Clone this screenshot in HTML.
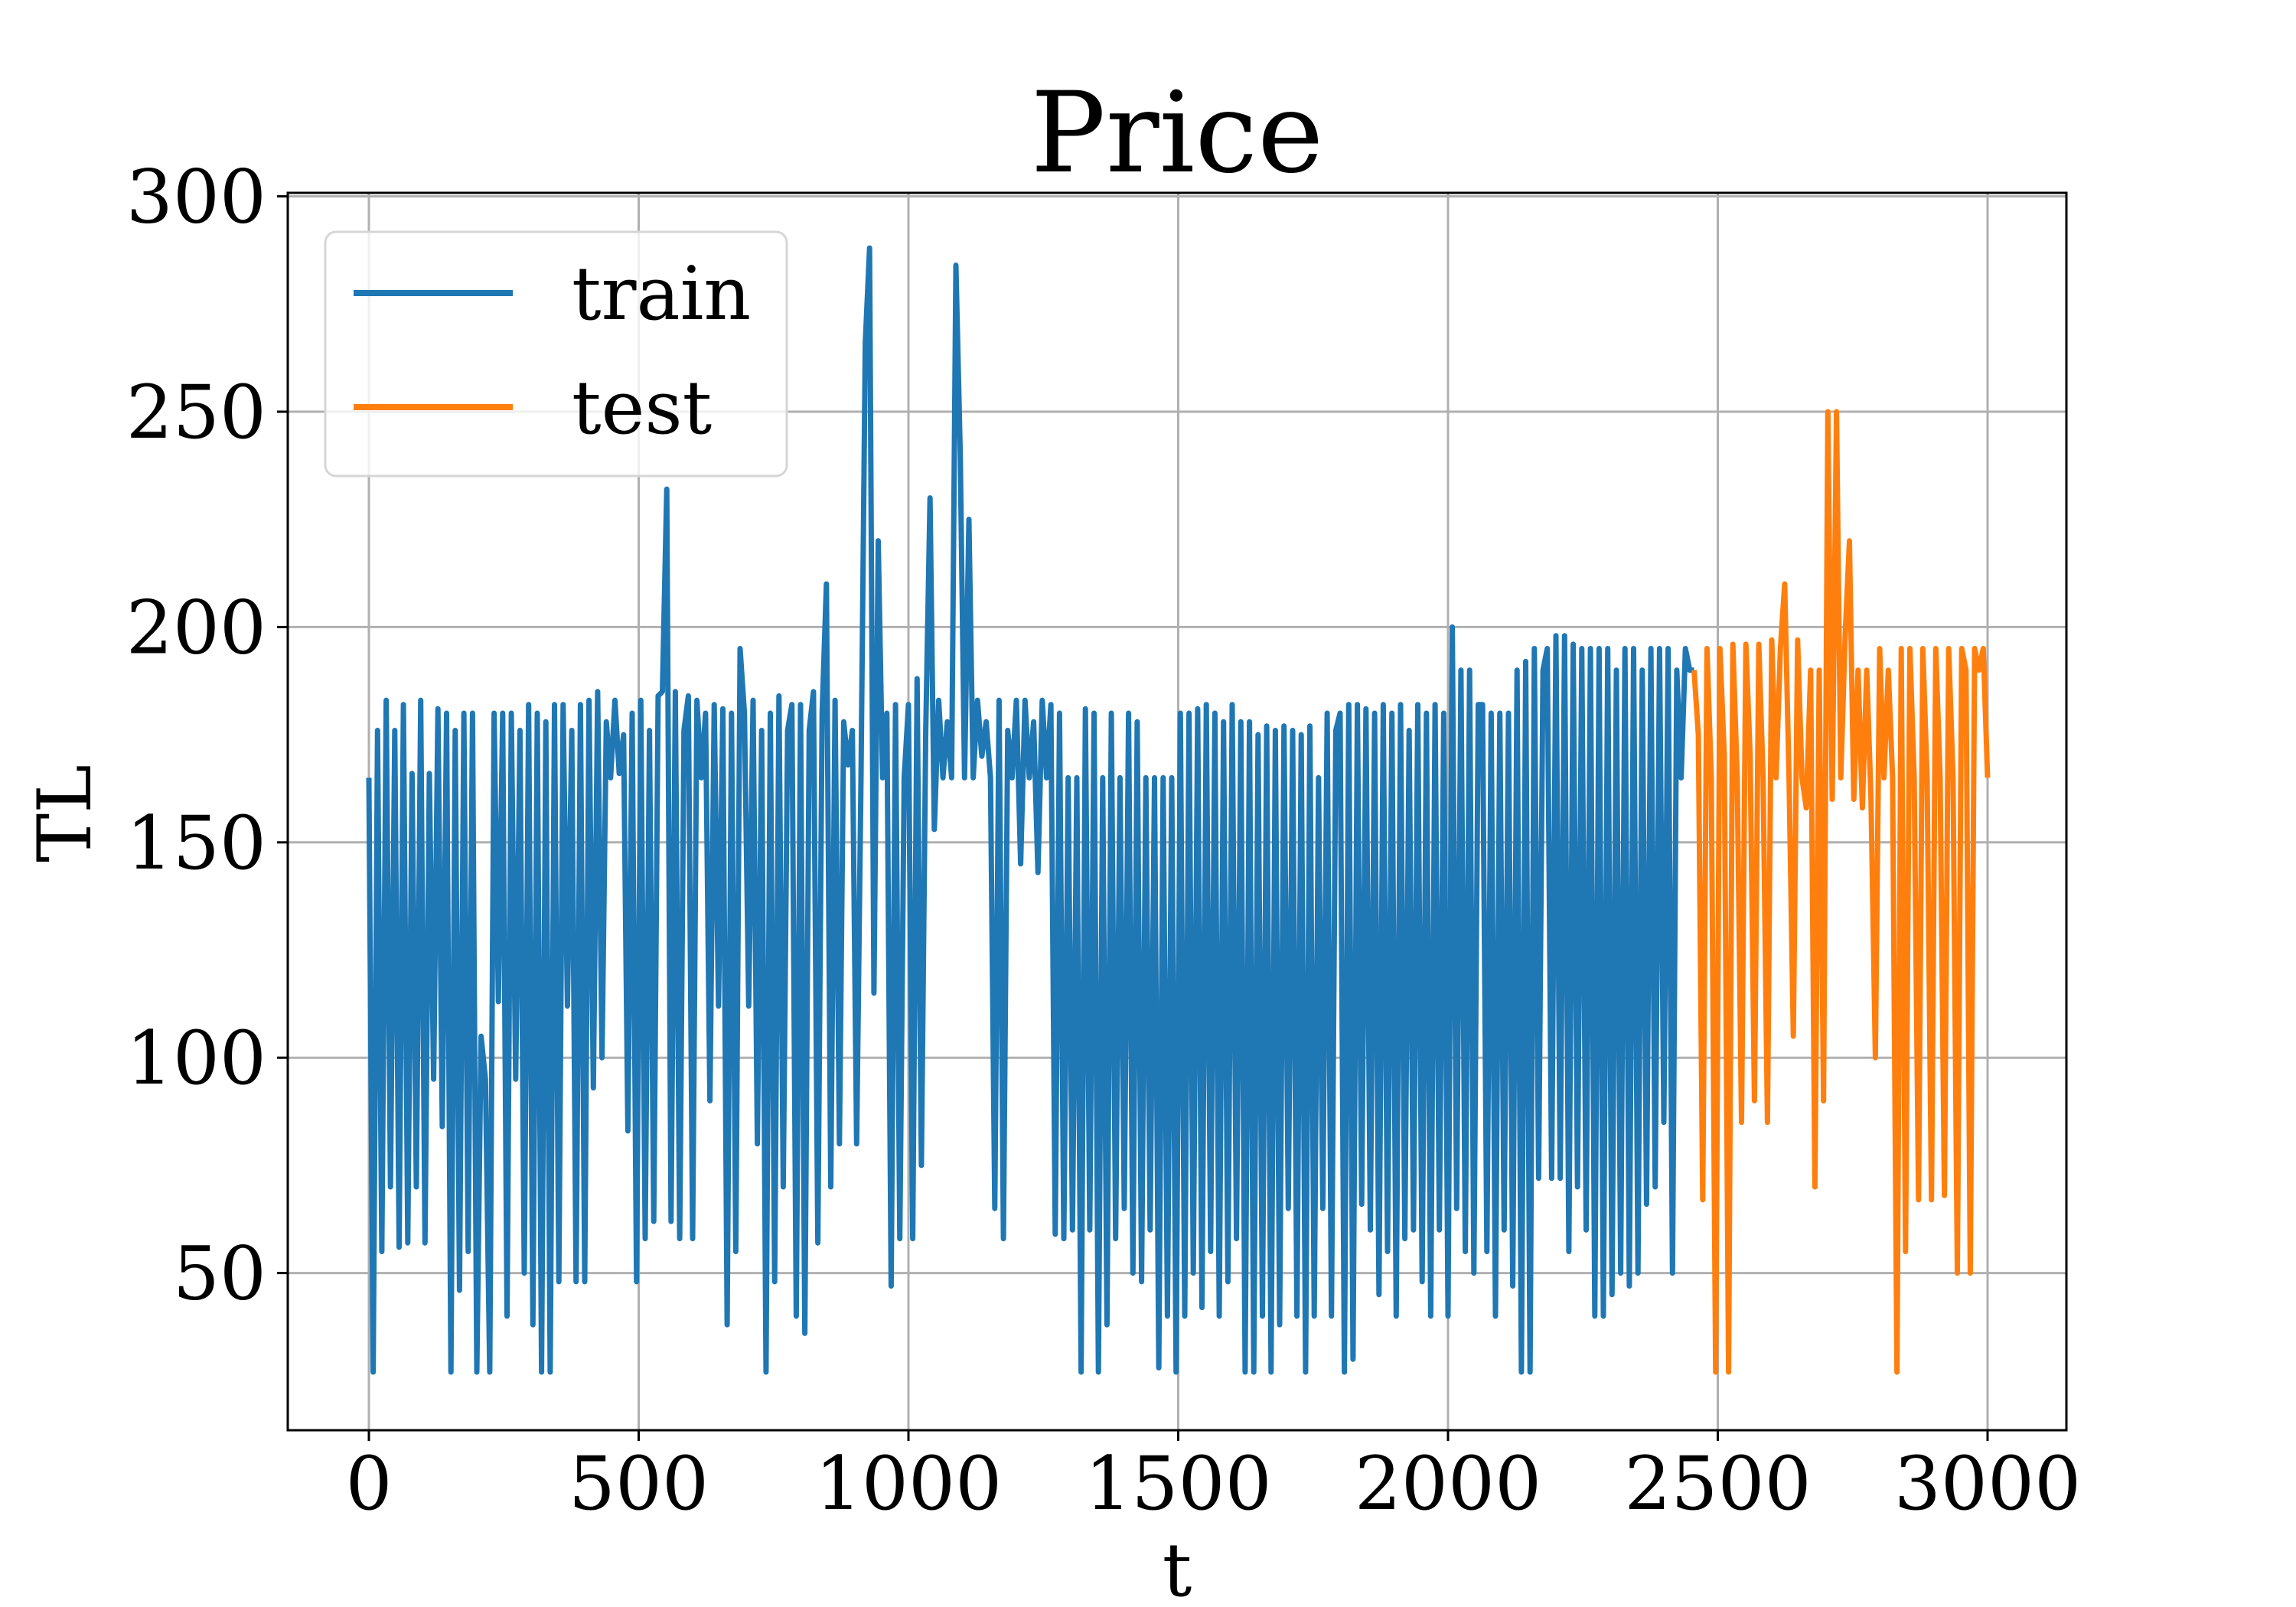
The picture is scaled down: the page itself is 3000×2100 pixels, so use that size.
<!DOCTYPE html>
<html><head><meta charset="utf-8"><style>
html,body{margin:0;padding:0;background:#fff;}
svg{display:block;font-family:"DejaVu Serif","Liberation Serif",serif;}
</style></head><body>
<svg id="chart" width="3000" height="2100" viewBox="0 0 3000 2100">
<rect x="0" y="0" width="3000" height="2100" fill="#fff"/>
<g id="grid"></g>
<g id="series"></g>
<rect x="376" y="252" width="2324" height="1617" fill="none" stroke="#000" stroke-width="3"/>
<g id="ticks"></g>
<text x="1538" y="224" font-size="146" text-anchor="middle">Price</text>
<text x="1538" y="2085" font-size="96" text-anchor="middle">t</text>
<text x="0" y="0" font-size="96" text-anchor="middle" transform="translate(118,1063) rotate(-90)">TL</text>
<g>
<rect x="425" y="303" width="603" height="319" rx="14" fill="#fff" fill-opacity="0.8" stroke="#d6d6d6" stroke-width="3"/>
<line x1="462" y1="383" x2="670" y2="383" stroke="#1f77b4" stroke-width="8"/>
<text x="747" y="417" font-size="96">train</text>
<line x1="462" y1="532" x2="670" y2="532" stroke="#ff7f0e" stroke-width="8"/>
<text x="747" y="566" font-size="96">test</text>
</g>
</svg>
<script>
const xTicks = [0, 500, 1000, 1500, 2000, 2500, 3000];
const yTicks = [50, 100, 150, 200, 250, 300];
const trainStart = 0, trainStep = 8;
const trainV = [
165,27,176,55,183,70,176,56,182,57,166,70,183,57,166,95,181,84,180,27,176,46,180,55,180,
27,105,95,27,180,113,180,40,180,95,176,50,182,38,180,27,178,27,182,48,182,112,176,48,182,
48,183,93,185,100,178,165,183,166,175,83,180,48,183,58,176,62,184,185,232,62,185,58,176,184,
58,183,165,180,90,182,112,181,38,180,55,195,180,112,183,80,176,27,180,48,184,70,176,182,40,
182,36,176,185,57,180,210,70,183,80,178,168,176,80,165,266,288,115,220,165,180,47,182,58,165,
182,58,188,75,176,230,153,183,165,178,165,284,240,165,225,165,183,170,178,165,65,183,58,176,165,
183,145,183,165,178,143,183,165,182,59,180,58,165,60,165,27,181,60,180,27,165,38,180,58,165,
65,180,50,178,48,165,60,165,28,165,40,165,27,180,40,180,50,181,42,182,55,180,40,178,48,
182,58,178,27,178,27,175,40,177,27,176,38,177,65,176,40,175,27,177,40,165,65,180,40,176,
180,27,182,30,182,66,181,60,180,45,182,55,180,40,182,58,176,60,182,48,180,40,182,60,180,
40,200,65,190,55,190,50,182,182,55,180,40,180,60,180,47,190,27,192,27,195,72,190,195,72,
198,72,198,55,196,70,195,60,195,40,195,40,195,45,190,50,195,47,195,50,190,66,195,70,195,
85,195,50,190,165,195,190,190];
const testStart = 2456, testStep = 8;
const testV = [190,175,67,195,165,27,195,170,27,196,165,85,196,170,90,196,165,85,197,165,195,210,165,105,197,165,158,190,70,190,90,250,160,250,165,198,220,160,190,158,190,160,100,195,165,190,165,27,195,55,195,165,67,195,165,67,195,165,68,195,165,50,195,190,50,195,190,195,165];

const NS = "http://www.w3.org/2000/svg";
const X = t => 482 + t * 0.705;
const Y = v => 1945 - v * 5.628;
const grid = document.getElementById('grid');
const ticks = document.getElementById('ticks');
function mk(tag, attrs, parent){const e=document.createElementNS(NS,tag);for(const k in attrs)e.setAttribute(k,attrs[k]);parent.appendChild(e);return e;}
xTicks.forEach(t=>{
  const g = mk('line',{x1:X(t),x2:X(t),y1:252,y2:1869,stroke:'#b0b0b0','stroke-width':3},grid);
  
  
  const tk = mk('line',{x1:X(t),x2:X(t),y1:1869,y2:1883,stroke:'#000','stroke-width':3},ticks);
  
  
  const tx = mk('text',{x:X(t),y:1972,'font-size':96,'text-anchor':'middle'},ticks);
  tx.textContent = t;
  
  
});
yTicks.forEach(v=>{
  const g = mk('line',{x1:376,x2:2700,y1:Y(v),y2:Y(v),stroke:'#b0b0b0','stroke-width':3},grid);
  
  
  const tk = mk('line',{x1:362,x2:376,y1:Y(v),y2:Y(v),stroke:'#000','stroke-width':3},ticks);
  
  
  const tx = mk('text',{x:348,y:Y(v)+34,'font-size':96,'text-anchor':'end'},ticks);
  tx.textContent = v;
  
  
});
const series = document.getElementById('series');
function drawLine(start, step, vs, color, name){
  const d = vs.map((v,i)=>(i?'L':'M')+X(start+i*step).toFixed(1)+' '+Y(v).toFixed(1)).join(' ');
  const p = mk('path',{d:d,fill:'none',stroke:color,'stroke-width':7,'stroke-linejoin':'round'},series);
  
  
}
drawLine(trainStart, trainStep, trainV, '#1f77b4', 'train-line');
drawLine(testStart, testStep, testV, '#ff7f0e', 'test-line');
</script>
</body></html>
